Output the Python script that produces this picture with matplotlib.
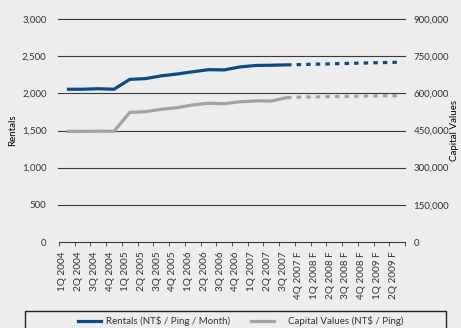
import numpy as np
import matplotlib
matplotlib.use("Agg")
import matplotlib.pyplot as plt
import matplotlib.transforms as mtransforms
from matplotlib.lines import Line2D
from matplotlib.patches import Rectangle

plt.rcParams['font.family'] = ['Lato', 'DejaVu Sans']
plt.rcParams['font.size'] = 7
plt.rcParams['text.color'] = '#333333'

quarters = ["1Q 2004", "2Q 2004", "3Q 2004", "4Q 2004",
            "1Q 2005", "2Q 2005", "3Q 2005", "4Q 2005",
            "1Q 2006", "2Q 2006", "3Q 2006", "4Q 2006",
            "1Q 2007", "2Q 2007", "3Q 2007",
            "4Q 2007 F", "1Q 2008 F", "2Q 2008 F", "3Q 2008 F",
            "4Q 2008 F", "1Q 2009 F", "2Q 2009 F"]

# actual data up to 3Q 2007, forecast after
rentals = [2055, 2055, 2062, 2055, 2188, 2198, 2235, 2260, 2290, 2318,
           2315, 2355, 2375, 2378, 2383,
           2388, 2393, 2398, 2403, 2408, 2413, 2418]
capital = [446500, 446500, 447500, 447000, 523000, 526000, 535500, 542000,
           553000, 560000, 558000, 566000, 569500, 569000, 583000,
           585000, 586000, 587000, 588000, 589000, 590000, 590500]
n_actual = 15

blue = '#0b4a85'
grey = '#a3a3a3'
bg = '#ededed'

fig = plt.figure(figsize=(4.61, 3.28), dpi=100, facecolor=bg)
ax = fig.add_axes([59 / 461, 1 - 242 / 328, (405 - 59) / 461, (242 - 19) / 328])
ax.set_facecolor(bg)
ax2 = ax.twinx()

x = np.arange(len(quarters))

ax.plot(x[:n_actual], rentals[:n_actual], color=blue, lw=2.3, solid_capstyle='butt', zorder=3)
ax.plot(x[n_actual - 1:], rentals[n_actual - 1:], color=blue, lw=2.3,
        dashes=(1.4, 1.6), dash_capstyle='butt', zorder=3)
ax2.plot(x[:n_actual], capital[:n_actual], color=grey, lw=2.3, solid_capstyle='butt', zorder=3)
ax2.plot(x[n_actual - 1:], capital[n_actual - 1:], color=grey, lw=2.3,
         dashes=(1.4, 1.6), dash_capstyle='butt', zorder=3)

ax.set_xlim(-0.5, len(quarters) - 0.5)
ax.set_ylim(0, 3000)
ax2.set_ylim(0, 900000)
ax.set_yticks(np.arange(0, 3001, 500))
ax2.set_yticks(np.arange(0, 900001, 150000))
ax.set_yticklabels([f"{v:,}" for v in range(0, 3001, 500)])
ax2.set_yticklabels([f"{v:,}" for v in range(0, 900001, 150000)])

for v in range(500, 3001, 500):
    ax.axhline(v, color='#3a3a3a', lw=0.8, zorder=1, xmin=-1 / 346, clip_on=False)

for a in (ax, ax2):
    for s in a.spines.values():
        s.set_visible(False)
ax.spines['bottom'].set_visible(True)
ax.spines['bottom'].set_color('#3a3a3a')
ax.spines['bottom'].set_linewidth(0.8)

ax.set_xticks(x)
ax.set_xticks(np.arange(-0.5, len(quarters) - 0.4, 1), minor=True)
ax.set_xticklabels(quarters, rotation=90, va='top', ha='center',
                   family=['Liberation Sans Narrow', 'Lato', 'DejaVu Sans'], fontsize=7.2)
ax.tick_params(axis='x', which='major', length=0, pad=7, colors='#333333')
ax.tick_params(axis='x', which='minor', length=3, width=0.6, color='#3a3a3a')
shift = mtransforms.ScaledTranslation(-4 / 100, 0, fig.dpi_scale_trans)
for lab in ax.get_xticklabels():
    lab.set_transform(lab.get_transform() + shift)

ax.tick_params(axis='y', length=0, pad=9, colors='#333333')
ax2.tick_params(axis='y', length=0, pad=6, colors='#333333')

ax.set_ylabel("Rentals")
ax2.set_ylabel("Capital Values")
ax.yaxis.set_label_coords((17 - 59) / 346, 0.5)
ax2.yaxis.set_label_coords((450 - 59) / 346, 0.5)

# legend box runs past the bottom edge, as in the source
fig.patches.append(Rectangle((25 / 461, -0.1), 421 / 461, 0.1 + 17 / 328,
                             transform=fig.transFigure, fill=False,
                             edgecolor='#222222', lw=1.0))
leg_y = 1 - 321 / 328
fig.legend([Line2D([], [], color=blue, lw=2.3)], [r"Rentals (NT\$ / Ping / Month)"],
           loc='center left', bbox_to_anchor=(78 / 461, leg_y),
           frameon=False, borderaxespad=0, borderpad=0,
           handlelength=2.4, handletextpad=0.45, fontsize=7)
fig.legend([Line2D([], [], color=grey, lw=2.3)], [r"Capital Values (NT\$ / Ping)"],
           loc='center left', bbox_to_anchor=(251 / 461, leg_y),
           frameon=False, borderaxespad=0, borderpad=0,
           handlelength=2.4, handletextpad=1.4, fontsize=7)

fig.savefig("out.png", dpi=100, facecolor=bg)
